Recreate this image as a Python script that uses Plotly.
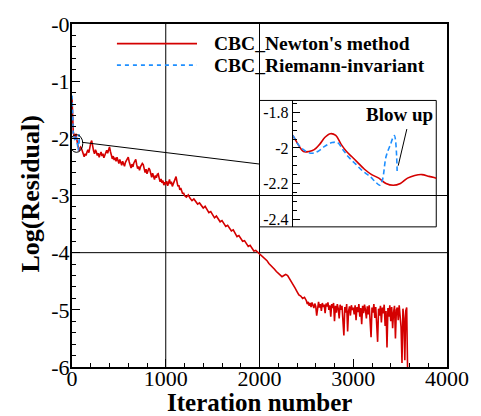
import plotly.graph_objects as go

# ---------------- data ----------------
# start-up phase (sampled densely, also shown in the zoomed inset)
early_iter = [0, 3, 6, 10, 14, 17, 20, 23, 26, 29, 32, 35, 38, 41, 44, 47, 50,
              53, 56, 60, 64, 68, 72, 76, 80, 84, 88, 92, 96, 100]
newton_early = [-1.30, -1.55, -1.75, -1.88, -1.92, -1.90, -1.93, -1.98, -2.02,
                -2.02, -2.01, -1.98, -1.94, -1.92, -1.93, -1.98, -2.02, -2.05,
                -2.08, -2.12, -2.15, -2.17, -2.20, -2.21, -2.20, -2.17, -2.155,
                -2.15, -2.16, -2.17]

# noisy descent, every 10 iterations from 110 to 1190
descent_iter = list(range(110, 1200, 10))
newton_descent = [
    -2.22, -2.28, -2.32, -2.27, -2.30, -2.24, -2.20, -2.25, -2.14,
    -2.08, -2.04, -2.16, -2.22, -2.27, -2.20, -2.24, -2.30, -2.26, -2.33,
    -2.28, -2.24, -2.31, -2.27, -2.34, -2.29, -2.25, -2.21, -2.26, -2.18,
    -2.15, -2.23, -2.30, -2.36, -2.31, -2.38, -2.34, -2.40, -2.33, -2.39,
    -2.44, -2.37, -2.42, -2.47, -2.40, -2.45, -2.49, -2.42, -2.38, -2.35,
    -2.33, -2.41, -2.47, -2.52, -2.45, -2.50, -2.43, -2.39, -2.37, -2.46,
    -2.53, -2.49, -2.56, -2.50, -2.47, -2.44, -2.46, -2.55, -2.60, -2.54,
    -2.62, -2.57, -2.52, -2.55, -2.63, -2.68, -2.61, -2.66, -2.72, -2.65,
    -2.69, -2.63, -2.62, -2.70, -2.76, -2.71, -2.78, -2.74, -2.82, -2.77,
    -2.80, -2.75, -2.83, -2.78, -2.72, -2.80, -2.76, -2.84, -2.79, -2.74,
    -2.70, -2.67, -2.76, -2.84, -2.82, -2.90, -2.87, -2.93, -2.97, -2.95,
]

# smooth convergence, every 20 iterations from 1200 to 2480
smooth_iter = list(range(1200, 2500, 20))
newton_smooth = [
    -3.00, -3.03, -2.99, -3.05, -3.09, -3.06, -3.10, -3.15, -3.13, -3.17,
    -3.22, -3.19, -3.24, -3.30, -3.28, -3.33, -3.39, -3.36, -3.40, -3.46,
    -3.44, -3.48, -3.54, -3.52, -3.56, -3.62, -3.60, -3.66, -3.72, -3.70,
    -3.75, -3.80, -3.79, -3.83, -3.89, -3.87, -3.92, -3.97, -3.96, -3.99,
    -4.03, -4.05, -4.09, -4.12, -4.14, -4.19, -4.22, -4.26, -4.29, -4.33,
    -4.36, -4.40, -4.42, -4.40, -4.38, -4.40, -4.45, -4.51, -4.57, -4.62,
    -4.68, -4.74, -4.76, -4.80, -4.78,
]

# stalled, oscillating residual, every 10 iterations from 2500 to 3580
stall_iter = list(range(2500, 3590, 10))
newton_stall = [
    -4.84, -4.90, -4.86, -4.93, -4.88, -4.95, -4.87, -4.92, -4.97, -4.89,
    -4.94, -5.10, -4.91, -4.86, -4.96, -4.90, -5.02, -4.88, -4.95, -4.91,
    -5.06, -4.89, -4.94, -4.87, -5.00, -4.92, -5.12, -4.90, -4.97, -4.88,
    -5.20, -4.93, -5.05, -4.90, -4.98, -5.15, -4.91, -5.00, -4.93, -5.30,
    -5.45, -4.95, -5.05, -4.90, -5.38, -5.02, -4.94, -5.10, -4.92, -5.00,
    -4.96, -5.08, -4.92, -5.18, -4.95, -5.04, -4.90, -5.12, -4.97, -5.25,
    -4.93, -5.06, -4.91, -5.00, -5.15, -4.94, -5.08, -4.92, -5.30, -5.48,
    -4.96, -5.05, -4.90, -5.14, -4.95, -5.35, -5.56, -4.98, -5.10, -4.93,
    -5.22, -4.96, -5.06, -4.91, -5.28, -5.02, -5.66, -4.97, -5.12, -4.92,
    -5.20, -4.95, -5.32, -5.05, -4.93, -5.50, -5.00, -4.96, -5.18, -4.92,
    -5.10, -5.30, -5.93, -4.98, -5.15, -5.88, -5.02, -4.96, -6.10,
]

newton_iter = early_iter + descent_iter + smooth_iter + stall_iter
newton_res = newton_early + newton_descent + newton_smooth + newton_stall

# Riemann-invariant BC: diverges shortly after start
riemann_iter = [0, 3, 6, 10, 14, 17, 20, 23, 26, 30, 34, 38, 42, 45, 48, 51, 55,
                59, 63, 66, 68.5, 70, 72, 74.5, 76.6, 78.2]
riemann_res = [-1.25, -1.50, -1.72, -1.87, -1.92, -1.91, -1.93, -1.98, -2.01,
               -2.03, -2.02, -1.99, -1.97, -1.97, -2.01, -2.05, -2.09, -2.13,
               -2.16, -2.19, -2.21, -2.18, -2.05, -1.98, -1.93, -2.13]

main_xticks = [0, 1000, 2000, 3000, 4000]
main_yticks = [0, -1, -2, -3, -4, -5, -6]
main_ylabels = ["-0", "-1", "-2", "-3", "-4", "-5", "-6"]
inset_yticks = [-1.8, -2.0, -2.2, -2.4]
inset_ylabels = ["-1.8", "-2", "-2.2", "-2.4"]

RED = "#d40000"
BLUE = "#1e8fff"
SERIF = "Liberation Serif"

# ---------------- figure ----------------
fig = go.Figure()

fig.add_trace(go.Scatter(x=newton_iter, y=newton_res, mode="lines",
                         line=dict(color=RED, width=1.6), name="CBC_Newton's method"))
fig.add_trace(go.Scatter(x=riemann_iter, y=riemann_res, mode="lines",
                         line=dict(color=BLUE, width=1.6, dash="4px,3px"),
                         name="CBC_Riemann-invariant"))

# zoomed inset of the start-up phase
fig.add_trace(go.Scatter(x=newton_iter, y=newton_res, mode="lines", xaxis="x2", yaxis="y2",
                         line=dict(color=RED, width=1.6, shape="spline")))
fig.add_trace(go.Scatter(x=riemann_iter, y=riemann_res, mode="lines", xaxis="x2", yaxis="y2",
                         line=dict(color=BLUE, width=1.6, dash="5px,3px", shape="spline")))

# plot area: x 72..456 px, y 17..367 px
L, R, T, B = 72, 456, 17, 367
W, H = R - L, B - T


def px(x):
    return (x - L) / W


def py(y):
    return (B - y) / H


shapes = []
# grid lines
for gx in (1000, 2000):
    shapes.append(dict(type="line", xref="x", yref="y", x0=gx, x1=gx, y0=-6, y1=0,
                       line=dict(color="black", width=1), layer="below"))
for gy in (-3, -4):
    shapes.append(dict(type="line", xref="x", yref="y", x0=0, x1=4000, y0=gy, y1=gy,
                       line=dict(color="black", width=1), layer="below"))
# legend background
shapes.append(dict(type="rect", xref="paper", yref="paper", x0=px(106), x1=px(430),
                   y0=py(68), y1=py(T + 1), fillcolor="white", line=dict(width=0), layer="below"))
# inset frame
shapes.append(dict(type="rect", xref="paper", yref="paper", x0=px(264), x1=px(445),
                   y0=py(224), y1=py(95), fillcolor="white",
                   line=dict(color="black", width=1), layer="below"))
# legend line samples
shapes.append(dict(type="line", xref="paper", yref="paper", x0=px(118), x1=px(200),
                   y0=py(37), y1=py(37), line=dict(color=RED, width=1.6)))
shapes.append(dict(type="line", xref="paper", yref="paper", x0=px(118), x1=px(200),
                   y0=py(59), y1=py(59), line=dict(color=BLUE, width=1.6, dash="4px,4px")))
# zoom marker and leader line
shapes.append(dict(type="circle", xref="x", yref="y", x0=-21, x1=115, y0=-2.245, y1=-1.935,
                   line=dict(color="black", width=1)))
shapes.append(dict(type="line", xref="x", yref="y", x0=110, x1=2000, y0=-2.07, y1=-2.45,
                   line=dict(color="black", width=1)))
# pointer for the divergence note
shapes.append(dict(type="line", xref="x2", yref="y2", x0=83.6, x1=78.8, y0=-1.894, y1=-2.10,
                   line=dict(color="black", width=1)))

annotations = [
    dict(text="CBC_Newton's method", xref="paper", yref="paper", x=px(215), y=py(37),
         xanchor="left", yanchor="middle", showarrow=False,
         font=dict(family=SERIF, size=19.5, color="black", weight="bold")),
    dict(text="CBC_Riemann-invariant", xref="paper", yref="paper", x=px(215), y=py(59),
         xanchor="left", yanchor="middle", showarrow=False,
         font=dict(family=SERIF, size=19.5, color="black", weight="bold")),
    dict(text="Blow up", xref="x2", yref="y2", x=79.3, y=-1.811, xanchor="center",
         yanchor="middle", showarrow=False,
         font=dict(family=SERIF, size=19, color="black", weight="bold")),
    dict(text="Iteration number", xref="paper", yref="paper", x=px(264), y=py(403),
         xanchor="center", yanchor="middle", showarrow=False,
         font=dict(family=SERIF, size=25, color="black", weight="bold")),
    dict(text="Log(Residual)", xref="paper", yref="paper", x=px(30), y=py(190),
         xanchor="center", yanchor="middle", showarrow=False, textangle=-90,
         font=dict(family=SERIF, size=26, color="black", weight="bold")),
]

fig.update_layout(
    width=481, height=416,
    margin=dict(l=L, r=481 - R, t=T, b=416 - B),
    paper_bgcolor="white", plot_bgcolor="rgba(0,0,0,0)",
    showlegend=False,
    shapes=shapes, annotations=annotations,
    font=dict(family=SERIF, color="black"),
    xaxis=dict(range=[0, 4000], tickvals=main_xticks, showgrid=False, zeroline=False,
               ticks="inside", ticklen=8, tickwidth=1, tickcolor="black",
               minor=dict(dtick=200, ticks="inside", ticklen=4, tickcolor="black", showgrid=False),
               showline=True, linewidth=2, linecolor="black", mirror=True,
               ticklabelstandoff=-9,
               tickfont=dict(family=SERIF, size=22, color="black")),
    yaxis=dict(range=[-6, 0], tickvals=main_yticks, ticktext=main_ylabels, showgrid=False,
               zeroline=False, ticks="inside", ticklen=8, tickwidth=1, tickcolor="black",
               minor=dict(dtick=0.2, ticks="inside", ticklen=4, tickcolor="black", showgrid=False),
               showline=True, linewidth=2, linecolor="black", mirror=True,
               ticklabelstandoff=-4,
               tickfont=dict(family=SERIF, size=22, color="black")),
    xaxis2=dict(domain=[px(298), px(445)], anchor="y2", range=[20, 100], showgrid=False,
                zeroline=False, showticklabels=False, ticks="", showline=False),
    yaxis2=dict(domain=[py(224), py(95)], anchor="x2", range=[-2.444, -1.733],
                tickvals=inset_yticks, ticktext=inset_ylabels, showgrid=False, zeroline=False,
                ticks="inside", ticklen=7, tickwidth=1, tickcolor="black",
                minor=dict(dtick=0.05, ticks="inside", ticklen=4, tickcolor="black", showgrid=False),
                showline=True, linewidth=1, linecolor="black",
                tickfont=dict(family=SERIF, size=16, color="black")),
)

fig.write_html("out.html")
